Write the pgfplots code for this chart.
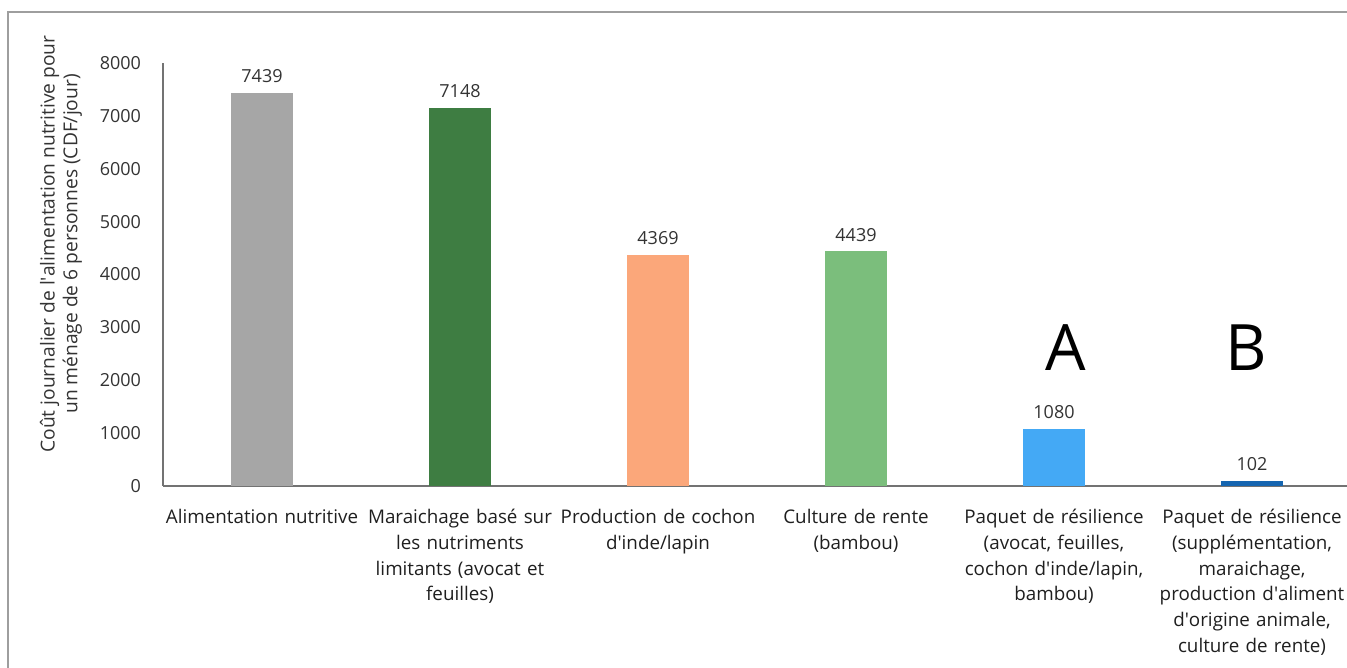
\documentclass[border=0pt]{standalone}
\usepackage{pgfplots}
\pgfplotsset{compat=1.18}
\usepackage{fontspec}
\setmainfont{Open Sans}

\definecolor{cGray}{HTML}{A6A6A6}
\definecolor{cDarkGreen}{HTML}{3E7D42}
\definecolor{cSalmon}{HTML}{FBA77A}
\definecolor{cLightGreen}{HTML}{7BBE7C}
\definecolor{cBlue}{HTML}{44A9F5}
\definecolor{cDarkBlue}{HTML}{1565B0}
\definecolor{cText}{HTML}{333333}

\newcommand{\ap}{\textquotesingle}

\begin{document}
\begin{tikzpicture}
% page area and outer frame (only its top and left edges fall on the page)
\useasboundingbox (0pt,0pt) rectangle (673.5pt,334pt);
\clip (0pt,0pt) rectangle (673.5pt,334pt);
\draw[color=black!38, line width=1.2pt] (4pt,-10pt) -- (4pt,328pt) -- (690pt,328pt);

\begin{axis}[
  at={(81.5pt,91pt)}, anchor=south west,
  x=99pt, y=0.0264375pt,
  xmin=-0.5, xmax=5.48, ymin=0, ymax=8000,
  axis x line=bottom, axis y line=left,
  axis line style={-, draw=black!55, line width=0.8pt},
  major tick length=0pt,
  ytick={0,1000,...,8000},
  xtick={0,...,5},
  xticklabels={
    Alimentation nutritive,
    {Maraichage basé sur\\les nutriments\\limitants (avocat et\\feuilles)},
    {Production de cochon\\d\ap inde/lapin},
    {Culture de rente\\(bambou)},
    {Paquet de résilience\\(avocat, feuilles,\\cochon d\ap inde/lapin,\\bambou)},
    {Paquet de résilience\\(supplémentation,\\maraichage,\\production d\ap aliment\\d\ap origine animale,\\culture de rente)}
  },
  /pgf/number format/assume math mode=true,
  /pgf/number format/1000 sep={},
  yticklabel style={font=\fontsize{9}{10}\selectfont, text=cText, xshift=-7.5pt},
  xticklabel style={font=\fontsize{9.4}{12.9}\selectfont, text=black!88,
    text width=110pt, align=center, anchor=north, yshift=-8pt},
  ybar, bar width=31pt,
  every axis plot/.append style={bar shift=0pt, draw=none},
  nodes near coords,
  every node near coord/.append style={font=\fontsize{9}{10}\selectfont, text=cText, yshift=1.5pt},
  clip=false,
]
\addplot[fill=cGray]       coordinates {(0,7439)};
\addplot[fill=cDarkGreen]  coordinates {(1,7148)};
\addplot[fill=cSalmon]     coordinates {(2,4369)};
\addplot[fill=cLightGreen] coordinates {(3,4439)};
\addplot[fill=cBlue]       coordinates {(4,1080)};
\addplot[fill=cDarkBlue]   coordinates {(5,102)};

\node[font=\fontsize{32}{32}\selectfont] at (axis cs:4.06,2620) {A};
\node[font=\fontsize{32}{32}\selectfont] at (axis cs:4.97,2620) {B};
\end{axis}

\node[rotate=90, align=center, font=\fontsize{9.6}{11.3}\selectfont, text=cText]
  at (30.5pt,212pt)
  {Coût journalier de l\ap alimentation nutritive pour\\un ménage de 6 personnes (CDF/jour)};
\end{tikzpicture}
\end{document}
